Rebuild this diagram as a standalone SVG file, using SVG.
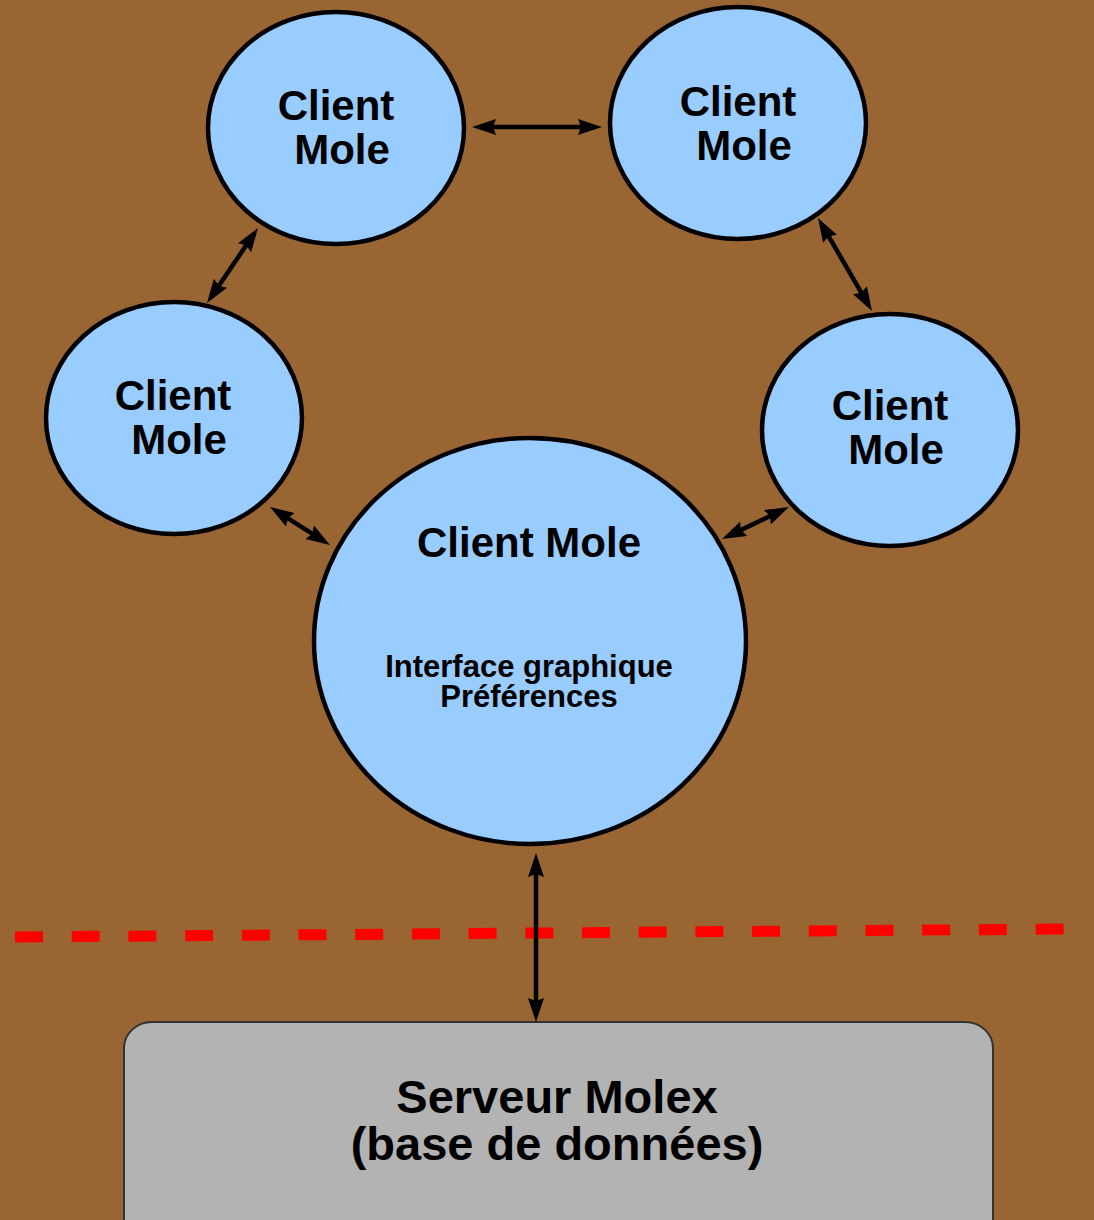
<svg xmlns="http://www.w3.org/2000/svg" width="1094" height="1220" viewBox="0 0 1094 1220">
<style>
.bg{fill:#996633}
.client{fill:#99ccff;stroke:#000;stroke-width:4.5}
.t{font-family:"Liberation Sans",Arial,Helvetica,sans-serif;font-weight:bold;fill:#000;text-anchor:middle}
.big{font-size:42px}
.small{font-size:31px}
.srv{font-size:47px}
.conn{stroke:#000;stroke-width:4.5;fill:none;marker-start:url(#ah);marker-end:url(#ah)}
.sep{stroke:#ff0000;stroke-width:11;stroke-dasharray:28 28.7;fill:none}
</style>
<defs>
<marker id="ah" markerUnits="userSpaceOnUse" markerWidth="26" markerHeight="18" refX="16" refY="8" orient="auto-start-reverse">
<path d="M0,0 L24,8 L0,16 L3,8 Z" fill="#000"/>
</marker>
</defs>
<rect class="bg" x="0" y="0" width="1094" height="1220"/>

<g id="separator">
<line class="sep" x1="15" y1="937" x2="1065" y2="929"/>
</g>

<g id="server">
<rect x="124" y="1022" width="869" height="240" rx="28" ry="26" fill="#b3b3b3" stroke="#333" stroke-width="2"/>
<text class="t srv" x="557" y="1113">Serveur Molex</text>
<text class="t srv" x="557" y="1160">(base de données)</text>
</g>

<g id="client-top-left">
<ellipse class="client" cx="336" cy="128" rx="128" ry="116"/>
<text class="t big" x="336" y="120">Client</text>
<text class="t big" x="342" y="164">Mole</text>
</g>

<g id="client-top-right">
<ellipse class="client" cx="738" cy="123" rx="128" ry="116"/>
<text class="t big" x="738" y="116">Client</text>
<text class="t big" x="744" y="160">Mole</text>
</g>

<g id="client-mid-left">
<ellipse class="client" cx="174" cy="418" rx="128" ry="116"/>
<text class="t big" x="173" y="410">Client</text>
<text class="t big" x="179" y="454">Mole</text>
</g>

<g id="client-mid-right">
<ellipse class="client" cx="890" cy="430" rx="128" ry="116"/>
<text class="t big" x="890" y="420">Client</text>
<text class="t big" x="896" y="464">Mole</text>
</g>

<g id="client-main">
<ellipse class="client" cx="530" cy="641" rx="216" ry="203"/>
<text class="t big" x="529" y="557">Client Mole</text>
<text class="t small" x="529" y="677">Interface graphique</text>
<text class="t small" x="529" y="707">Préférences</text>
</g>

<g id="connectors">
<line class="conn" x1="480" y1="127" x2="594" y2="127"/>
<line class="conn" x1="253.5" y1="234.6" x2="211.5" y2="296.4"/>
<line class="conn" x1="822" y1="224.9" x2="868" y2="304.1"/>
<line class="conn" x1="276.8" y1="511.3" x2="323.2" y2="540.7"/>
<line class="conn" x1="781.8" y1="510.4" x2="729.2" y2="535.6"/>
<line class="conn" x1="536" y1="861" x2="536" y2="1014"/>
</g>
</svg>
